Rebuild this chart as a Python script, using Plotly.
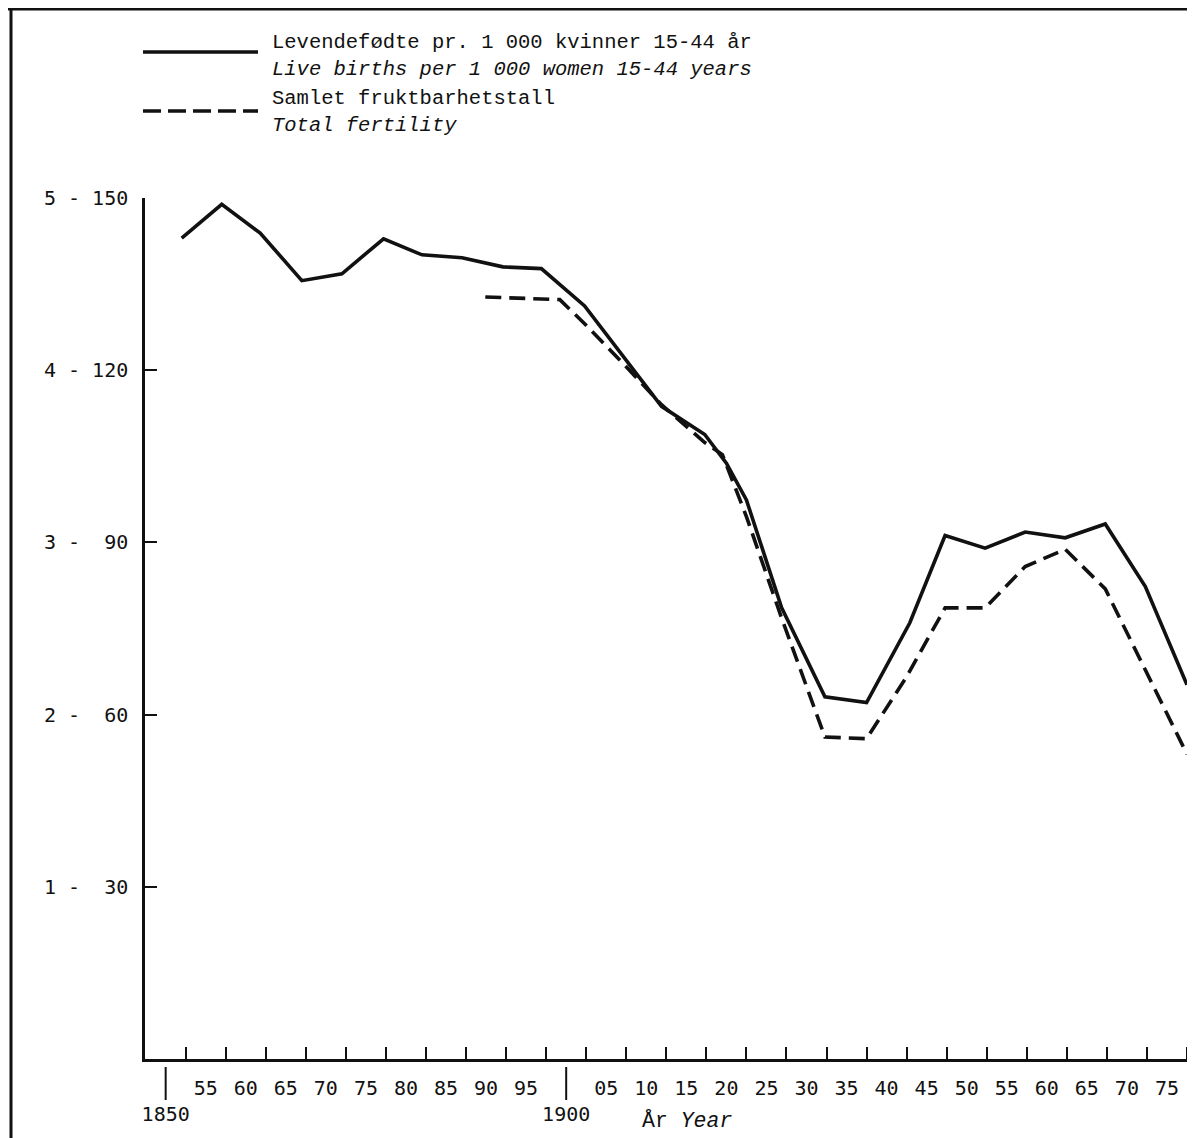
import plotly.graph_objects as go

# ---- data ----
births_years = [1852.0, 1857.0, 1861.8, 1867.0, 1872.0, 1877.2, 1882.0, 1887.0, 1892.1, 1896.9,
                1902.3, 1907.3, 1911.9, 1917.3, 1920.0, 1922.5, 1926.9, 1932.3, 1937.5, 1942.9,
                1947.3, 1952.3, 1957.3, 1962.3, 1967.3, 1972.3, 1977.5]
births = [143.0, 148.9, 143.9, 135.6, 136.8, 142.9, 140.1, 139.6, 138.0, 137.7,
          131.2, 122.0, 113.7, 108.8, 103.8, 97.4, 78.6, 63.1, 62.1, 76.0,
          91.2, 89.0, 91.8, 90.8, 93.2, 82.3, 65.2]

tfr_years = [1889.9, 1899.2, 1902.3, 1907.3, 1911.9, 1917.3, 1919.5, 1922.5, 1926.9, 1932.3,
             1937.5, 1942.5, 1947.3, 1952.3, 1957.3, 1962.3, 1967.3, 1972.3, 1977.5]
tfr = [4.425, 4.41, 4.27, 4.03, 3.80, 3.58, 3.51, 3.15, 2.56, 1.87,
       1.86, 2.22, 2.62, 2.62, 2.86, 2.96, 2.73, 2.26, 1.77]

y_ticks = [30, 60, 90, 120, 150]
y_ticktext = ["1 -\u00a0\u00a030", "2 -\u00a0\u00a060", "3 -\u00a0\u00a090", "4 - 120", "5 - 150"]

x_label_years = list(range(1850, 1980, 5))
x_labels = ["\u00a0<br>1850", "55", "60", "65", "70", "75", "80", "85", "90", "95",
            "\u00a0<br>1900", "05", "10", "15", "20", "25", "30", "35", "40", "45",
            "50", "55", "60", "65", "70", "75"]
x_tick_marks = [1852.5 + 5 * k for k in range(26)]

legend_births = ["Levendefødte pr. 1 000 kvinner 15-44 år", "Live births per 1 000 women 15-44 years"]
legend_tfr = ["Samlet fruktbarhetstall", "Total fertility"]
axis_title = "År <i>Year</i>"

# ---- layout geometry (page coords; the page body adds an 8px offset) ----
OFF = 8
W, H = 1195 - OFF, 1138 - OFF
ML, MR, MT = 145 - OFF, 0, 198 - OFF
BOTTOM = 1059 - OFF
MB = H - BOTTOM
PW = W - ML - MR
PH = BOTTOM - MT


def px(x):
    return (x - OFF - ML) / PW


def py(y):
    return (BOTTOM - (y - OFF)) / PH


INK = "#111111"
MONO_SANS = "DejaVu Sans Mono"
TYPE = "Liberation Mono"

fig = go.Figure()
fig.add_trace(go.Scatter(x=births_years, y=births, mode="lines",
                         line=dict(color=INK, width=3.6), xaxis="x", yaxis="y",
                         showlegend=False, hoverinfo="skip"))
fig.add_trace(go.Scatter(x=tfr_years, y=tfr, mode="lines",
                         line=dict(color=INK, width=3.6, dash="16px,8px"), xaxis="x", yaxis="y2",
                         showlegend=False, hoverinfo="skip"))

shapes = []
# 1850 / 1900 marker lines below the axis
for yr in (1850, 1900):
    shapes.append(dict(type="line", xref="x", yref="paper", x0=yr, x1=yr,
                       y0=py(1067), y1=py(1100), line=dict(color=INK, width=2)))
# frame (top and left edges of the page)
shapes.append(dict(type="line", xref="paper", yref="paper", x0=px(0), x1=px(1200),
                   y0=py(OFF + 1), y1=py(OFF + 1), line=dict(color=INK, width=3)))
shapes.append(dict(type="line", xref="paper", yref="paper", x0=px(11), x1=px(11),
                   y0=py(OFF + 1), y1=py(1140), line=dict(color=INK, width=3)))
# legend samples
shapes.append(dict(type="line", xref="paper", yref="paper", x0=px(143), x1=px(258),
                   y0=py(52), y1=py(52), line=dict(color=INK, width=3.6)))
shapes.append(dict(type="line", xref="paper", yref="paper", x0=px(143), x1=px(258),
                   y0=py(111), y1=py(111), line=dict(color=INK, width=3.6, dash="18px,7px")))

annotations = []
entries = [(legend_births[0] + "<br><i>" + legend_births[1] + "</i>", 56),
           (legend_tfr[0] + "<br><i>" + legend_tfr[1] + "</i>", 112)]
for txt, yy in entries:
    annotations.append(dict(text=txt, xref="paper", yref="paper", x=px(270), y=py(yy),
                            xanchor="left", yanchor="middle", align="left", showarrow=False,
                            font=dict(family=TYPE, size=20.5, color=INK)))
annotations.append(dict(text=axis_title, xref="paper", yref="paper", x=px(640), y=py(1120),
                        xanchor="left", yanchor="middle", showarrow=False,
                        font=dict(family=TYPE, size=21.5, color=INK)))

fig.update_layout(
    width=W, height=H,
    margin=dict(l=ML, r=MR, t=MT, b=MB, pad=0),
    paper_bgcolor="white", plot_bgcolor="white",
    showlegend=False,
    shapes=shapes, annotations=annotations,
    xaxis=dict(range=[1847.42, 1978.5], showgrid=False, zeroline=False,
               showline=True, linecolor=INK, linewidth=2.5,
               tickmode="array", tickvals=x_label_years, ticktext=x_labels, ticks="",
               tickfont=dict(family=MONO_SANS, size=20, color=INK),
               ticklabelstandoff=9,
               minor=dict(tickmode="array", tickvals=x_tick_marks, ticks="inside",
                          ticklen=12, tickwidth=2, tickcolor=INK, showgrid=False)),
    yaxis=dict(range=[0, 150], showgrid=False, zeroline=False,
               showline=True, linecolor=INK, linewidth=2.5,
               tickmode="array", tickvals=y_ticks, ticktext=y_ticktext,
               ticks="inside", ticklen=12, tickwidth=2, tickcolor=INK,
               tickfont=dict(family=MONO_SANS, size=20, color=INK),
               ticklabelstandoff=10),
    yaxis2=dict(range=[0, 5], overlaying="y", visible=False, showgrid=False, zeroline=False),
)

fig.write_html("out.html")
